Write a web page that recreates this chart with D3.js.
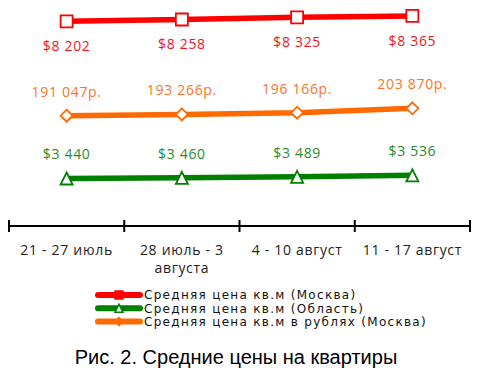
<!DOCTYPE html>
<html>
<head>
<meta charset="utf-8">
<script src="https://cdn.jsdelivr.net/npm/d3@7"></script>
<style>
  body { margin: 0; background: #fff; }
  svg { display: block; }
</style>
</head>
<body>
<div id="chart"></div>
<script>
// categories (weeks)
var weeks = ["21 - 27 июль", "28 июль - 3 августа", "4 - 10 август", "11 - 17 август"];
// average price per sq.m
var moscowUsd = [8202, 8258, 8325, 8365];
var regionUsd = [3440, 3460, 3489, 3536];
var moscowRub = [191047, 193266, 196166, 203870];
var seriesNames = ["Средняя цена кв.м (Москва)", "Средняя цена кв.м (Область)", "Средняя цена кв.м в рублях (Москва)"];
var caption = "Рис. 2. Средние цены на квартиры";

var width = 480, height = 376;
var svg = d3.select("#chart").append("svg")
	.attr("width", width)
	.attr("height", height);

var plotTop = -5, plotBottom = 226;

var x = d3.scaleBand().domain(weeks).range([9, 470]);
var yUsd = d3.scaleLinear().domain([2000, 9000]).range([plotBottom, plotTop]);
var yRub = d3.scaleLinear().domain([0, 400000]).range([plotBottom, plotTop]);

function cx(i){
	return x(weeks[i]) + x.bandwidth() / 2;
}

var series = [
	{ values: moscowUsd, y: yUsd, color: "#ff0000", labelColor: "#f2141c", marker: "square", fmt: function(d){ return "$" + fmtNum(d); }, dy: 25 },
	{ values: regionUsd, y: yUsd, color: "#008000", labelColor: "#2b8a2b", marker: "triangle", fmt: function(d){ return "$" + fmtNum(d); }, dy: -24 },
	{ values: moscowRub, y: yRub, color: "#ff6a00", labelColor: "#ff7326", marker: "diamond", fmt: function(d){ return fmtNum(d) + "р."; }, dy: -24 }
];

function fmtNum(d){
	return d3.format(",")(d).replace(/,/g, " ");
}

function markerPath(type, size){
	var s = size / 2;
	if (type == "square") return "M" + (-s) + "," + (-s) + "h" + size + "v" + size + "h" + (-size) + "Z";
	if (type == "diamond") return "M0," + (-s) + "L" + s + ",0L0," + s + "L" + (-s) + ",0Z";
	return "M0," + (-s) + "L" + s + "," + s + "L" + (-s) + "," + s + "Z";
}

// category axis
var axis = svg.append("g").attr("class", "axis");
axis.append("line")
	.attr("x1", x.range()[0]).attr("x2", x.range()[1])
	.attr("y1", plotBottom).attr("y2", plotBottom)
	.attr("stroke", "#000").attr("stroke-width", 2);
var bounds = weeks.map(function(w){ return x(w); }).concat([x.range()[1]]);
axis.selectAll("line.tick").data(bounds).enter()
	.append("line").attr("class", "tick")
	.attr("x1", function(d){ return d; }).attr("x2", function(d){ return d; })
	.attr("y1", plotBottom - 6).attr("y2", plotBottom + 6)
	.attr("stroke", "#000").attr("stroke-width", 2);

var tickText = axis.selectAll("text").data(weeks).enter()
	.append("text")
	.attr("x", function(d, i){ return cx(i); })
	.attr("y", plotBottom + 29)
	.attr("text-anchor", "middle")
	.attr("font-family", "Open Sans")
	.attr("font-size", 14)
	.attr("letter-spacing", 0.7)
	.attr("fill", "#222")
	.text(function(d){ return d; });
tickText.each(function(){ wrap(d3.select(this), 110); });

function wrap(text, maxWidth){
	var words = text.text().split(" ");
	var lines = [], cur = [];
	text.text(null);
	var probe = text.append("tspan");
	words.forEach(function(w){
		cur.push(w);
		probe.text(cur.join(" "));
		if (probe.node().getComputedTextLength() > maxWidth && cur.length > 1){
			cur.pop();
			lines.push(cur.join(" "));
			cur = [w];
		}
	});
	lines.push(cur.join(" "));
	probe.remove();
	var x0 = text.attr("x");
	lines.forEach(function(l, i){
		text.append("tspan").attr("x", x0).attr("dy", i == 0 ? 0 : 18).text(l);
	});
}

// lines, markers, labels
var line = d3.line();
series.forEach(function(s){
	var g = svg.append("g");
	g.append("path")
		.attr("d", line(s.values.map(function(v, i){ return [cx(i), s.y(v)]; })))
		.attr("fill", "none")
		.attr("stroke", s.color)
		.attr("stroke-width", 5.5)
		.attr("stroke-linecap", "round");
	g.selectAll("path.marker").data(s.values).enter()
		.append("path").attr("class", "marker")
		.attr("d", markerPath(s.marker, 12))
		.attr("transform", function(d, i){ return "translate(" + cx(i) + "," + s.y(d) + ")"; })
		.attr("fill", "#fff")
		.attr("stroke", s.color)
		.attr("stroke-width", 1.8);
	g.selectAll("text").data(s.values).enter()
		.append("text")
		.attr("x", function(d, i){ return cx(i); })
		.attr("y", function(d){ return s.y(d) + s.dy; })
		.attr("dy", "0.35em")
		.attr("text-anchor", "middle")
		.attr("font-family", "Open Sans")
		.attr("font-size", 14)
		.attr("letter-spacing", 0.7)
		.attr("fill", s.labelColor)
		.text(s.fmt);
});

// legend
var legendOrder = [0, 1, 2];
var legend = svg.append("g");
legendOrder.forEach(function(si, r){
	var s = series[si];
	var ly = 295 + r * 13.3;
	legend.append("line")
		.attr("x1", 98).attr("x2", 140)
		.attr("y1", ly).attr("y2", ly)
		.attr("stroke", s.color).attr("stroke-width", 6)
		.attr("stroke-linecap", "round");
	legend.append("path")
		.attr("d", markerPath(s.marker, 8))
		.attr("transform", "translate(119," + ly + ")")
		.attr("fill", si == 1 ? "#fff" : s.color)
		.attr("stroke", s.color)
		.attr("stroke-width", 1.5);
	legend.append("text")
		.attr("x", 144)
		.attr("y", ly)
		.attr("dy", "0.36em")
		.attr("font-family", "DejaVu Sans")
		.attr("font-size", 12)
		.attr("letter-spacing", 1.3)
		.attr("fill", "#111")
		.text(seriesNames[si]);
});

// caption
svg.append("text")
	.attr("x", 236)
	.attr("y", 364)
	.attr("text-anchor", "middle")
	.attr("font-family", "Liberation Sans")
	.attr("font-size", 20)
	.attr("fill", "#000")
	.text(caption);
</script>
</body>
</html>
